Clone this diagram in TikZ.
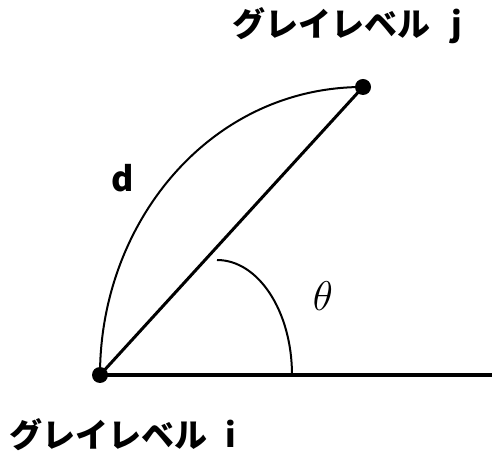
\documentclass[tikz,border=0pt]{standalone}
\usepackage{fontspec}
\newfontfamily\jpfont{Noto Sans CJK JP}
\usetikzlibrary{positioning}

\tikzset{
  dot/.style={circle, fill=black, inner sep=0pt, minimum size=8pt},
  lbl/.style={font=\jpfont\bfseries\fontsize{16.5}{18}\selectfont, inner sep=0pt, anchor=west},
}

\begin{document}
\begin{tikzpicture}[x=0.5pt, y=-0.5pt]
      \useasboundingbox (0,0) rectangle (492,458);
      \node[dot] (i) at (100,375) {};
      \node[dot] (j) at (363,87) {};
      \coordinate (end) at (492,375);

      \node[lbl] (li) at (9,435) {グレイレベル\hspace{0.55em}i};
      \node[lbl] (lj) at (232,26) {グレイレベル\hspace{0.65em}j};
      \node[font=\jpfont\bfseries\fontsize{17}{18}\selectfont] (d) at (123,178) {d};
      \node[font=\fontsize{20}{22}\selectfont] (theta) at (323,296) {$\theta$};

      \draw[line width=2pt] (i.center) -- (end);
      \draw[line width=1.5pt] (i.center) -- (j.center);
      \draw[line width=1pt] (i.center) to[out=90, in=180, looseness=1] (j.center);
      \draw[line width=1pt] (292,375) arc[start angle=0, end angle=-90, x radius=75, y radius=115];
    \end{tikzpicture}
\end{document}
